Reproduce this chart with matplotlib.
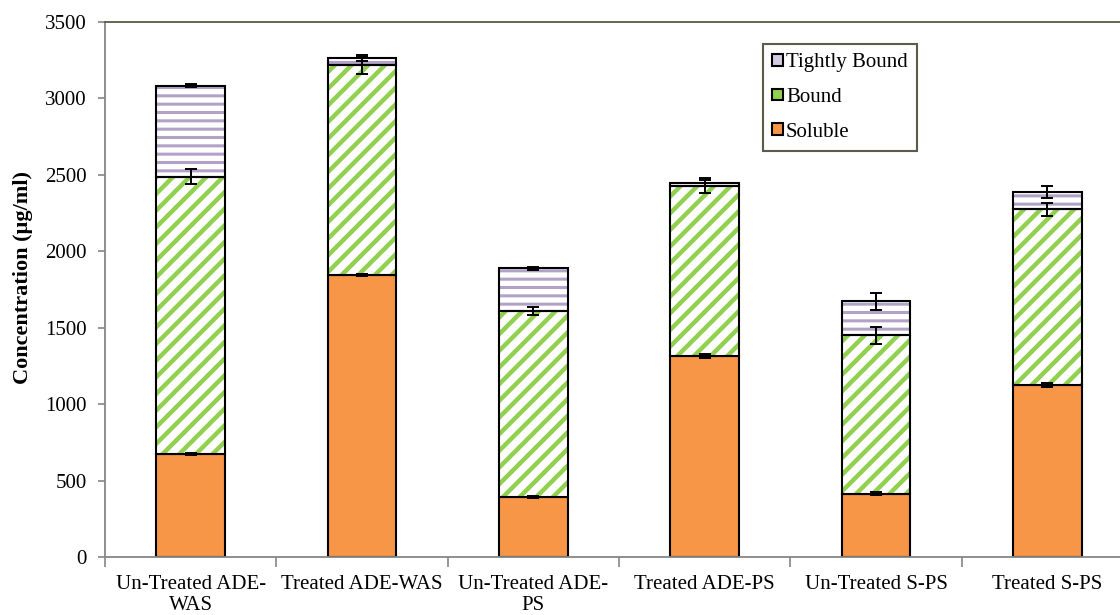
import numpy as np
import matplotlib as mpl
import matplotlib.pyplot as plt

plt.rcParams['font.family'] = ['Liberation Serif', 'DejaVu Serif']

samples = ["Un-Treated ADE-\nWAS", "Treated ADE-WAS", "Un-Treated ADE-\nPS",
           "Treated ADE-PS", "Un-Treated S-PS", "Treated S-PS"]

soluble = [674, 1845, 393, 1315, 415, 1125]
bound = [1814, 1372, 1216, 1112, 1035, 1149]
tightly_bound = [596, 47, 279, 22, 223, 114]

soluble_err = [5, 5, 5, 12, 8, 10]
bound_err = [51, 57, 25, 49, 57, 44]
tightly_err = [8, 20, 12, 20, 57, 37]

x = np.arange(len(samples))
w = 0.4

fig = plt.figure(figsize=(11.2, 6.15), dpi=100)
ax = fig.add_axes([0.09375, 0.0943, 0.918, 0.870])

sol = np.array(soluble)
bnd = np.array(bound)
tb = np.array(tightly_bound)

# soluble fraction: solid orange
ax.bar(x, sol, w, color='#F79646', edgecolor='black', linewidth=1.5,
       zorder=2)

# bound fraction: green diagonal stripes
with mpl.rc_context({'hatch.linewidth': 3.2}):
    ax.bar(x, bnd, w, bottom=sol, facecolor='white', edgecolor='#92D050',
           hatch='//', linewidth=0, zorder=2)
ax.bar(x, bnd, w, bottom=sol, fill=False, edgecolor='black', linewidth=1.5,
       zorder=3)

# tightly bound fraction: purple horizontal stripes
with mpl.rc_context({'hatch.linewidth': 2.2}):
    ax.bar(x, tb, w, bottom=sol + bnd, facecolor='white', edgecolor='#B3A2C7',
           hatch='--', linewidth=0, zorder=2)
ax.bar(x, tb, w, bottom=sol + bnd, fill=False, edgecolor='black',
       linewidth=1.5, zorder=3)

# error bars at the top of each segment
ekw = dict(fmt='none', ecolor='black', elinewidth=1.4, capsize=4.5,
           capthick=1.4, zorder=4)
ax.errorbar(x, sol, yerr=soluble_err, **ekw)
ax.errorbar(x, sol + bnd, yerr=bound_err, **ekw)
ax.errorbar(x, sol + bnd + tb, yerr=tightly_err, **ekw)

# legend proxies
h_tb = plt.Rectangle((0, 0), 1, 1, facecolor='#D4CAE2', edgecolor='black',
                     linewidth=1.5)
h_b = plt.Rectangle((0, 0), 1, 1, facecolor='#92D050', edgecolor='black',
                    linewidth=1.5)
h_s = plt.Rectangle((0, 0), 1, 1, facecolor='#F79646', edgecolor='black',
                    linewidth=1.5)
leg = ax.legend([h_tb, h_b, h_s], ['Tightly Bound', 'Bound', 'Soluble'],
                loc='upper left', bbox_to_anchor=(0.640, 0.959),
                borderaxespad=0, fontsize=15, fancybox=False,
                framealpha=1, edgecolor='#5b5b48', handlelength=0.5,
                handleheight=0.5, handletextpad=0.15, labelspacing=0.75,
                borderpad=0.45)
leg.get_frame().set_linewidth(1.5)

ax.set_xlim(-0.5, len(samples) - 0.5)
ax.set_ylim(0, 3500)
ax.set_yticks(np.arange(0, 3501, 500))
ax.tick_params(axis='y', labelsize=15, length=5, color='#868686', width=1.2,
               pad=8)

# category ticks at boundaries, labels at centres
ax.set_xticks(np.arange(-0.5, len(samples), 1))
ax.set_xticklabels([])
ax.set_xticks(x, minor=True)
ax.set_xticklabels(samples, minor=True, fontsize=15, linespacing=1.15)
ax.tick_params(axis='x', which='major', length=7, color='#868686', width=1.2)
ax.tick_params(axis='x', which='minor', length=0, pad=13)

ax.set_ylabel('Concentration (µg/ml)', fontsize=16, fontweight='bold')
ax.yaxis.set_label_coords(-0.070, 0.522)

for side in ['left', 'bottom']:
    ax.spines[side].set_color('#868686')
    ax.spines[side].set_linewidth(1.3)
ax.spines['top'].set_color('#5b5b48')
ax.spines['top'].set_linewidth(1.3)
ax.spines['right'].set_visible(False)

fig.savefig('out.png', dpi=100)
